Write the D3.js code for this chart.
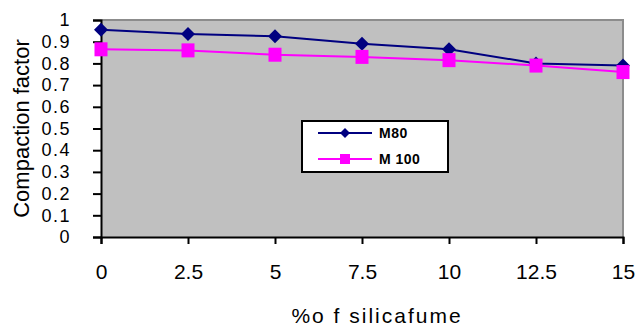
<!DOCTYPE html>
<html><head><meta charset="utf-8">
<script src="https://cdn.jsdelivr.net/npm/d3@7"></script>
<style>body{margin:0;background:#fff}svg{display:block}</style>
</head><body>
<script>
const xValues = [0, 2.5, 5, 7.5, 10, 12.5, 15];
const m80 = [0.955, 0.935, 0.925, 0.89, 0.865, 0.80, 0.79];
const m100 = [0.865, 0.86, 0.84, 0.83, 0.815, 0.79, 0.76];
const yTicks = [0, 0.1, 0.2, 0.3, 0.4, 0.5, 0.6, 0.7, 0.8, 0.9, 1];
const seriesNames = ["M80", "M 100"];
const xTitle = "%o f silicafume";
const yTitle = "Compaction factor";

const W = 639, H = 327;
const svg = d3.select("body").append("svg").attr("width", W).attr("height", H);
const L = 101, R = 623, T = 20, B = 237;
const x = d3.scaleLinear().domain([0, 15]).range([L, R]);
const y = d3.scaleLinear().domain([0, 1]).range([B, T]);

svg.append("rect").attr("x", L).attr("y", T).attr("width", R - L).attr("height", B - T)
  .attr("fill", "#c0c0c0");
svg.append("path").attr("d", `M${L},${T}H${R}V${B}`).attr("fill", "none")
  .attr("stroke", "#8c8c8c").attr("stroke-width", 2);

const font = "Arial, 'Liberation Sans', sans-serif";
const yAxis = svg.append("g").attr("transform", `translate(${L},0)`)
  .call(d3.axisLeft(y).tickValues(yTicks).tickSize(8).tickPadding(22).tickFormat(d => d === 0 || d === 1 ? String(d) : d3.format(".1f")(d)));
yAxis.select(".domain").attr("stroke", "#000").attr("stroke-width", 2);
yAxis.selectAll(".tick line").attr("stroke", "#000").attr("stroke-width", 2);
yAxis.selectAll("text").attr("font-family", font).attr("font-size", 18).attr("letter-spacing", 1.5).attr("fill", "#000");

const xAxis = svg.append("g").attr("transform", `translate(0,${B})`)
  .call(d3.axisBottom(x).tickValues(xValues).tickSize(7).tickPadding(20).tickFormat(d => String(d)));
xAxis.select(".domain").attr("stroke", "#000").attr("stroke-width", 2);
xAxis.selectAll(".tick line").attr("stroke", "#000").attr("stroke-width", 2);
xAxis.selectAll("text").attr("font-family", font).attr("font-size", 21).attr("fill", "#000");

svg.append("text").attr("x", 377).attr("y", 323).attr("text-anchor", "middle")
  .attr("font-family", font).attr("font-size", 21).attr("letter-spacing", 2).text(xTitle);
svg.append("text").attr("transform", `translate(29,${(T + B) / 2}) rotate(-90)`)
  .attr("text-anchor", "middle").attr("font-family", font).attr("font-size", 22).text(yTitle);

const line = d3.line().x((d, i) => x(xValues[i])).y(d => y(d));
const diamond = (cx, cy, s) => `M${cx},${cy - s}L${cx + s},${cy}L${cx},${cy + s}L${cx - s},${cy}Z`;

svg.append("path").datum(m80).attr("d", line).attr("fill", "none").attr("stroke", "#000080").attr("stroke-width", 2);
svg.selectAll(".m80").data(m80).enter().append("path")
  .attr("d", (d, i) => diamond(x(xValues[i]), y(d), 7)).attr("fill", "#000080");

svg.append("path").datum(m100).attr("d", line).attr("fill", "none").attr("stroke", "#ff00ff").attr("stroke-width", 2);
svg.selectAll(".m100").data(m100).enter().append("rect")
  .attr("x", (d, i) => x(xValues[i]) - 6.5).attr("y", d => y(d) - 7)
  .attr("width", 13).attr("height", 14).attr("fill", "#ff00ff");

// legend
const lg = svg.append("g");
lg.append("rect").attr("x", 302).attr("y", 121).attr("width", 146).attr("height", 51)
  .attr("fill", "#fff").attr("stroke", "#000").attr("stroke-width", 2);
const colors = ["#000080", "#ff00ff"];
[133, 159].forEach((ly, i) => {
  lg.append("line").attr("x1", 318).attr("x2", 372).attr("y1", ly).attr("y2", ly)
    .attr("stroke", colors[i]).attr("stroke-width", 2);
  if (i === 0) lg.append("path").attr("d", diamond(345, ly, 5)).attr("fill", colors[i]);
  else lg.append("rect").attr("x", 340).attr("y", ly - 5).attr("width", 10).attr("height", 10).attr("fill", colors[i]);
  lg.append("text").attr("x", 379).attr("y", ly + 5).attr("font-family", font).attr("font-size", 14)
    .attr("font-weight", "bold").attr("letter-spacing", 0.5).text(seriesNames[i]);
});
</script>
</body></html>
